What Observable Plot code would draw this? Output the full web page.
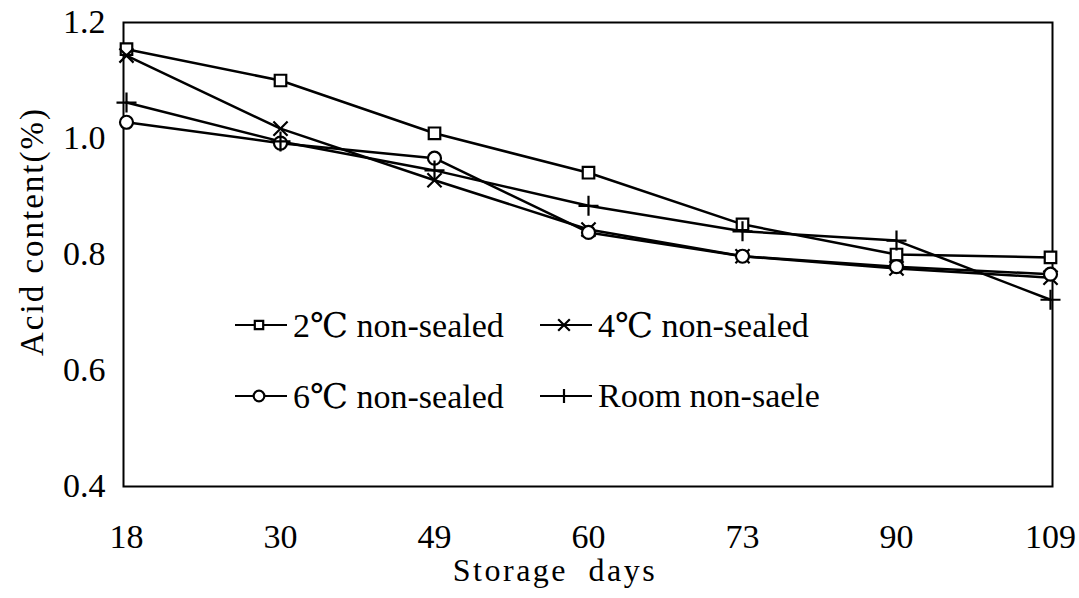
<!DOCTYPE html>
<html>
<head>
<meta charset="utf-8">
<script src="https://cdn.jsdelivr.net/npm/d3@7"></script>
<script src="https://cdn.jsdelivr.net/npm/@observablehq/plot@0.6"></script>
<style>
  html, body { margin: 0; padding: 0; background: #fff; }
  #wrap { position: relative; width: 1079px; height: 598px; }
  #legend { position: absolute; left: 0; top: 0; width: 1079px; height: 598px; pointer-events: none; }
  .item { position: absolute; display: flex; align-items: center; font-family: "Liberation Serif", "DejaVu Serif", serif; font-size: 34px; color: #000; white-space: nowrap; }
  .item svg { display: block; margin-right: 6px; }
</style>
</head>
<body>
<div id="wrap"><div id="legend"></div></div>
<script>
const days = ["18", "30", "49", "60", "73", "90", "109"];
const seriesNames = ["2℃ non-sealed", "4℃ non-sealed", "6℃ non-sealed", "Room non-saele"];
const acid2C   = [1.154, 1.100, 1.009, 0.941, 0.852, 0.800, 0.795];
const acid4C   = [1.143, 1.017, 0.928, 0.843, 0.797, 0.776, 0.760];
const acid6C   = [1.028, 0.992, 0.966, 0.838, 0.797, 0.779, 0.766];
const acidRoom = [1.062, 0.995, 0.945, 0.884, 0.840, 0.824, 0.722];
const yTicks = [0.4, 0.6, 0.8, 1.0, 1.2];
const symbols = ["square", "times", "circle", "plus"];
const xTitle = "Storage days";
const yTitle = "Acid content(%)";

const allSeries = [acid2C, acid4C, acid6C, acidRoom];
const data = [];
allSeries.forEach((vals, si) => vals.forEach((v, i) => data.push({series: seriesNames[si], day: days[i], acid: v})));

const font = "'Liberation Serif', 'DejaVu Serif', serif";

const plot = Plot.plot({
  width: 1079,
  height: 598,
  marginLeft: 123,
  marginRight: 27,
  marginTop: 22,
  marginBottom: 112,
  style: {fontFamily: font, background: "white", color: "black"},
  x: {type: "point", domain: days, range: [126, 1050], padding: 0},
  y: {domain: [0.4, 1.2], ticks: yTicks},
  symbol: {domain: seriesNames, range: symbols},
  marks: [
    Plot.frame({stroke: "black", strokeWidth: 2}),
    Plot.axisY({ticks: yTicks, tickFormat: d => d.toFixed(1), tickSize: 0, tickPadding: 18, fontSize: 34, label: null}),
    Plot.axisX({tickSize: 0, tickPadding: 37, fontSize: 34, label: null}),
    Plot.text([xTitle], {frameAnchor: "bottom", lineAnchor: "middle", textAnchor: "middle", dy: 84, dx: -33, fontSize: 32, fill: "black"}),
    Plot.text([yTitle], {frameAnchor: "left", textAnchor: "middle", lineAnchor: "middle", rotate: -90, dx: -91, dy: -23, fontSize: 33, fill: "black"}),
    Plot.line(data, {x: "day", y: "acid", z: "series", stroke: "black", strokeWidth: 2.5}),
    Plot.dot(data, {x: "day", y: "acid", symbol: "series", stroke: "black", strokeWidth: 2.2, r: 6.5,
      fill: d => (d.series === seriesNames[0] || d.series === seriesNames[2]) ? "white" : "none"})
  ]
});
d3.select(plot).selectAll("text").each(function() {
  const t = this.textContent;
  if (t === xTitle) d3.select(this).attr("letter-spacing", "2.5px").attr("word-spacing", "10px");
  if (t === yTitle) d3.select(this).attr("letter-spacing", "2px");
});
document.getElementById("wrap").prepend(plot);

// Legend (HTML overlay)
const legendPos = [
  {left: 235, top: 325}, {left: 540, top: 325},
  {left: 235, top: 396}, {left: 540, top: 396}
];
const leg = document.getElementById("legend");
seriesNames.forEach((name, i) => {
  const div = document.createElement("div");
  div.className = "item";
  div.style.left = legendPos[i].left + "px";
  div.style.top = (legendPos[i].top - 20) + "px";
  div.style.height = "40px";
  const sym = d3.symbol([d3.symbolSquare2, d3.symbolTimes, d3.symbolCircle2, d3.symbolPlus][i], 90)();
  const fill = (i === 0 || i === 2) ? "white" : "none";
  let markerSvg = `<path d="${sym}" transform="translate(24,20)" stroke="black" stroke-width="2.2" fill="${fill}"/>`;
  if (i === 3) markerSvg = `<line x1="24" x2="24" y1="13" y2="27" stroke="black" stroke-width="2.2"/>`;
  div.innerHTML = `<svg width="52" height="40"><line x1="0" x2="52" y1="20" y2="20" stroke="black" stroke-width="2.2"/>${markerSvg}</svg><span>${name}</span>`;
  leg.appendChild(div);
});
</script>
</body>
</html>
